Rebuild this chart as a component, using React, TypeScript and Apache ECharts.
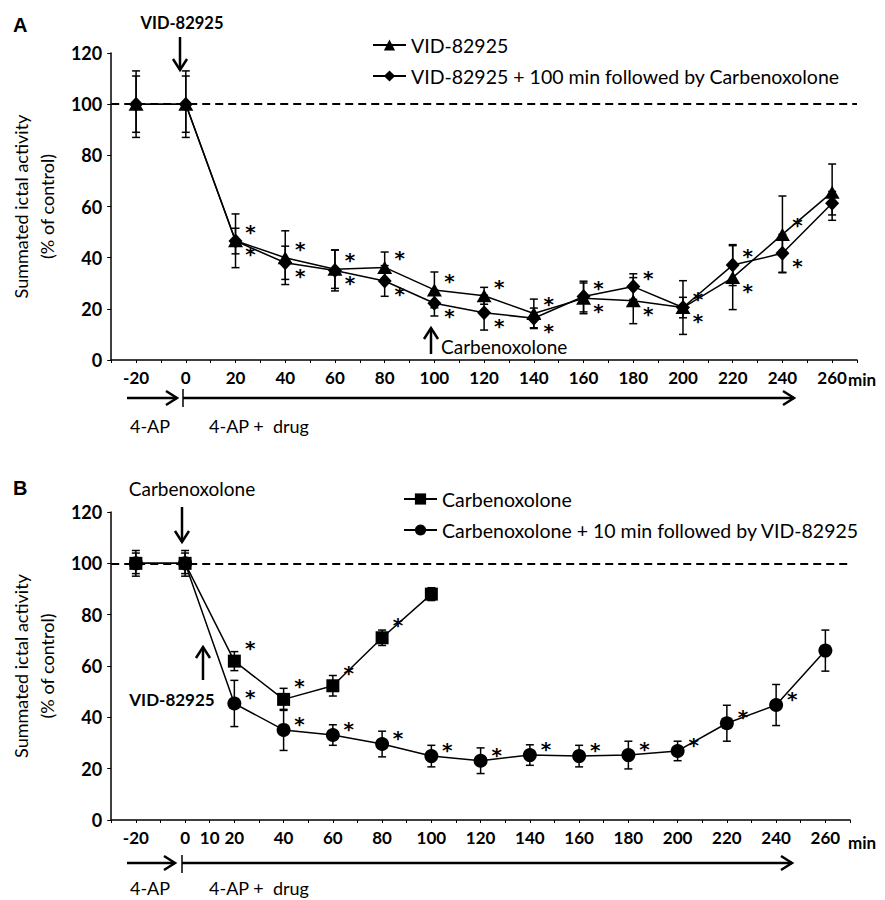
import React, { useEffect, useRef } from "react";
import * as echarts from "echarts";

// ---------- Data ----------
const timesA = [-20, 0, 20, 40, 60, 80, 100, 120, 140, 160, 180, 200, 220, 240, 260];
const vidA = [100, 100, 46.6, 40, 35.5, 36.2, 27.4, 25.1, 18.2, 24.1, 23.2, 20.5, 32.2, 49.1, 65.6];
const vidErrA = [13, 13, 10.5, 10.5, 7.5, 6, 7, 3.3, 5.6, 6, 9, 10.5, 12.5, 15, 11];
const vidCbxA = [100, 100, 46.5, 38, 35, 30.9, 22.2, 18.5, 16.3, 24.8, 28.7, 20.5, 37.1, 41.7, 61.3];
const vidCbxErrA = [11, 11, 5, 6.5, 8, 6, 5, 6.8, 4, 6, 5, 4, 8, 7.4, 4.6];
const sigTimesA = [20, 40, 60, 80, 100, 120, 140, 160, 180, 200, 220, 240];

const timesCbxB = [-20, 0, 20, 40, 60, 80, 100];
const cbxB = [100, 100, 61.9, 47, 52.3, 71, 88];
const cbxErrB = [5, 5, 3.7, 4.3, 4, 3, 2.5];
const sigCbxB = [20, 40, 60, 80];

const timesB = [-20, 0, 20, 40, 60, 80, 100, 120, 140, 160, 180, 200, 220, 240, 260];
const cbxVidB = [100, 100, 45.4, 35.1, 33.1, 29.6, 24.9, 23.1, 25.3, 24.9, 25.3, 26.9, 37.7, 44.8, 66];
const cbxVidErrB = [4, 4, 9, 8, 4, 5, 4.2, 5, 4, 4.2, 5.4, 3.8, 7, 8, 8];
const sigCbxVidB = [20, 40, 60, 80, 100, 120, 140, 160, 180, 200, 220, 240];

const xLabelsA = [-20, 0, 20, 40, 60, 80, 100, 120, 140, 160, 180, 200, 220, 240, 260];
const xLabelsB = [-20, 0, 10, 20, 40, 60, 80, 100, 120, 140, 160, 180, 200, 220, 240, 260];

const nameVid = "VID-82925";
const nameVidCbx = "VID-82925 + 100 min followed by Carbenoxolone";
const nameCbx = "Carbenoxolone";
const nameCbxVid = "Carbenoxolone + 10 min followed by VID-82925";

const FONT = "Lato";

function errSeries(times: number[], vals: number[], errs: number[], idx: number) {
  return {
    type: "custom",
    xAxisIndex: idx,
    yAxisIndex: idx,
    silent: true,
    z: 1,
    data: times.map((t, i) => [t, vals[i], errs[i]]),
    renderItem: (params: any, api: any) => {
      const t = api.value(0);
      const v = api.value(1);
      const e = api.value(2);
      const top = api.coord([t, v + e]);
      const bot = api.coord([t, v - e]);
      const hw = 4;
      const st = { stroke: "#000", lineWidth: 1.5 };
      return {
        type: "group",
        children: [
          { type: "line", shape: { x1: top[0], y1: top[1], x2: bot[0], y2: bot[1] }, style: st },
          { type: "line", shape: { x1: top[0] - hw, y1: top[1], x2: top[0] + hw, y2: top[1] }, style: st },
          { type: "line", shape: { x1: bot[0] - hw, y1: bot[1], x2: bot[0] + hw, y2: bot[1] }, style: st },
        ],
      };
    },
  };
}

function lineSeries(name: string, times: number[], vals: number[], idx: number, symbol: string, size: any, withRef: boolean) {
  const s: any = {
    type: "line",
    name,
    xAxisIndex: idx,
    yAxisIndex: idx,
    data: times.map((t, i) => [t, vals[i]]),
    symbol,
    symbolSize: size,
    showAllSymbol: true,
    lineStyle: { color: "#000", width: 1.5 },
    itemStyle: { color: "#000" },
    z: 3,
  };
  if (withRef) {
    s.markLine = {
      silent: true,
      symbol: "none",
      data: [{ yAxis: 100 }],
      label: { show: false },
      lineStyle: { color: "#000", width: 2, type: [8, 5] },
    };
  }
  return s;
}

// significance asterisks drawn next to data points
function starSeries(points: number[][], idx: number, dx: number, dy: number) {
  return {
    type: "custom",
    xAxisIndex: idx,
    yAxisIndex: idx,
    silent: true,
    z: 5,
    data: points,
    renderItem: (params: any, api: any) => {
      const p = api.coord([api.value(0), api.value(1)]);
      return {
        type: "text",
        x: p[0] + dx,
        y: p[1] + dy,
        style: {
          text: "*",
          fill: "#000",
          font: `bold 20px "DejaVu Sans"`,
          lineHeight: 12,
          align: "center",
          verticalAlign: "middle",
        },
      };
    },
  };
}

function arrowV(x: number, yFrom: number, yTo: number) {
  const dir = yTo > yFrom ? 1 : -1;
  return [
    { type: "line", shape: { x1: x, y1: yFrom, x2: x, y2: yTo }, style: { stroke: "#000", lineWidth: 2.5 } },
    {
      type: "polyline",
      shape: { points: [[x - 7, yTo - dir * 11], [x, yTo], [x + 7, yTo - dir * 11]] },
      style: { stroke: "#000", lineWidth: 2.5, fill: "none" },
    },
  ];
}

function arrowH(xFrom: number, xTo: number, y: number) {
  return [
    { type: "line", shape: { x1: xFrom, y1: y, x2: xTo, y2: y }, style: { stroke: "#000", lineWidth: 2.5 } },
    {
      type: "polyline",
      shape: { points: [[xTo - 11, y - 7], [xTo, y], [xTo - 11, y + 7]] },
      style: { stroke: "#000", lineWidth: 2.5, fill: "none" },
    },
  ];
}

function txt(text: string, x: number, y: number, font: string, align = "left") {
  return {
    type: "text",
    style: { text, x, y, font, fill: "#000", align, verticalAlign: "middle" },
  };
}

function xAxis(idx: number, labels: number[]) {
  return {
    type: "value",
    gridIndex: idx,
    min: -30,
    max: 270,
    interval: 10,
    axisLine: { onZero: false, lineStyle: { color: "#000", width: 1.5 } },
    axisTick: { show: true, length: 3, lineStyle: { color: "#000", width: 1 } },
    splitLine: { show: false },
    axisLabel: {
      margin: 9,
      color: "#000",
      fontFamily: FONT,
      fontWeight: "bold",
      fontSize: 17,
      formatter: (v: number) => (labels.indexOf(v) >= 0 ? String(v) : ""),
    },
  };
}

function yAxis(idx: number) {
  return {
    type: "value",
    gridIndex: idx,
    min: 0,
    max: 120,
    interval: 20,
    name: "Summated ictal activity\n(% of control)",
    nameLocation: "middle",
    nameRotate: 90,
    nameGap: 41,
    nameTextStyle: { color: "#000", fontFamily: FONT, fontSize: 18, lineHeight: 26 },
    axisLine: { show: true, onZero: false, lineStyle: { color: "#000", width: 1.5 } },
    axisTick: { show: true, length: 4, lineStyle: { color: "#000", width: 1 } },
    splitLine: { show: false },
    axisLabel: { margin: 9, color: "#000", fontFamily: FONT, fontWeight: "bold", fontSize: 18 },
  };
}

export default function App() {
  const ref = useRef<HTMLDivElement>(null);
  useEffect(() => {
    document.body.style.margin = "0";
    if (!ref.current) return;
    const chart = echarts.init(ref.current, undefined, { renderer: "svg" });

    const hiA = timesA.map((t, i) => [t, Math.max(vidA[i], vidCbxA[i])]).filter((p) => sigTimesA.indexOf(p[0]) >= 0);
    const loA = timesA.map((t, i) => [t, Math.min(vidA[i], vidCbxA[i])]).filter((p) => sigTimesA.indexOf(p[0]) >= 0);
    const starCbx = timesCbxB.map((t, i) => [t, cbxB[i]]).filter((p) => sigCbxB.indexOf(p[0]) >= 0);
    const starCbxVid = timesB.map((t, i) => [t, cbxVidB[i]]).filter((p) => sigCbxVidB.indexOf(p[0]) >= 0);

    const graphics: any[] = [
      txt("A", 13, 25, `bold 20px "Liberation Sans"`),
      txt("VID-82925", 182, 23, `bold 16.5px ${FONT}`, "center"),
      ...arrowV(180, 37, 70),
      ...arrowV(431, 354, 328),
      txt("Carbenoxolone", 441, 346, `19px ${FONT}`),
      txt("min", 848, 379, `bold 17px ${FONT}`),
      ...arrowH(127, 177, 398),
      { type: "line", shape: { x1: 183, y1: 389, x2: 183, y2: 407 }, style: { stroke: "#000", lineWidth: 1.5 } },
      ...arrowH(183, 794, 398),
      txt("4-AP", 150, 426, `18px ${FONT}`, "center"),
      txt("4-AP +  drug", 209, 426, `18px ${FONT}`),

      txt("B", 13, 488, `bold 20px "Liberation Sans"`),
      txt("Carbenoxolone", 192, 488, `19px ${FONT}`, "center"),
      ...arrowV(182, 507, 542),
      ...arrowV(203, 680, 647),
      txt("VID-82925", 172, 699, `bold 17px ${FONT}`, "center"),
      txt("min", 848, 842, `bold 17px ${FONT}`),
      ...arrowH(127, 175, 863),
      { type: "line", shape: { x1: 182, y1: 855, x2: 182, y2: 873 }, style: { stroke: "#000", lineWidth: 1.5 } },
      ...arrowH(182, 792, 863),
      txt("4-AP", 150, 888, `18px ${FONT}`, "center"),
      txt("4-AP +  drug", 209, 888, `18px ${FONT}`),
    ];

    chart.setOption({
      animation: false,
      backgroundColor: "#fff",
      grid: [
        { left: 105, top: 53, width: 752, height: 307 },
        { left: 105, top: 512, width: 745, height: 308 },
      ],
      xAxis: [xAxis(0, xLabelsA), xAxis(1, xLabelsB)],
      yAxis: [yAxis(0), yAxis(1)],
      legend: [
        {
          orient: "vertical",
          left: 367,
          top: 30,
          itemWidth: 33,
          itemHeight: 14,
          itemGap: 11,
          data: [nameVid, nameVidCbx],
          textStyle: { color: "#000", fontFamily: FONT, fontSize: 19.5 },
        },
        {
          orient: "vertical",
          left: 398,
          top: 484,
          itemWidth: 33,
          itemHeight: 14,
          itemGap: 11,
          data: [nameCbx, nameCbxVid],
          textStyle: { color: "#000", fontFamily: FONT, fontSize: 19.5 },
        },
      ],
      graphic: graphics,
      series: [
        errSeries(timesA, vidA, vidErrA, 0),
        errSeries(timesA, vidCbxA, vidCbxErrA, 0),
        lineSeries(nameVid, timesA, vidA, 0, "triangle", [15, 13], true),
        lineSeries(nameVidCbx, timesA, vidCbxA, 0, "diamond", [14, 15], false),
        starSeries(hiA, 0, 15, -9),
        starSeries(loA, 0, 15, 13),

        errSeries(timesCbxB, cbxB, cbxErrB, 1),
        errSeries(timesB, cbxVidB, cbxVidErrB, 1),
        lineSeries(nameCbx, timesCbxB, cbxB, 1, "rect", 13, true),
        lineSeries(nameCbxVid, timesB, cbxVidB, 1, "circle", 14, false),
        starSeries(starCbx, 1, 16, -13),
        starSeries(starCbxVid, 1, 16, -6),
      ],
    });
    return () => chart.dispose();
  }, []);
  return <div ref={ref} style={{ width: 885, height: 900 }} />;
}
